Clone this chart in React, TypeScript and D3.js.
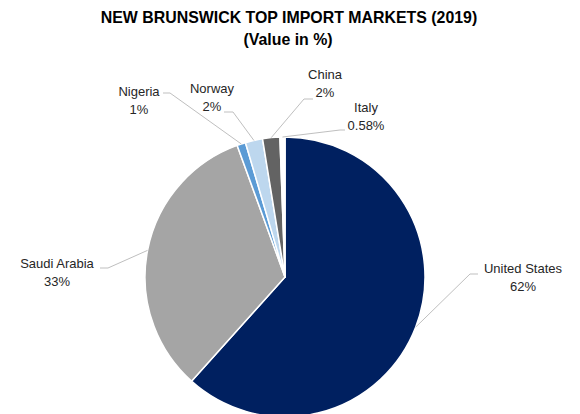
import React from "react";
import * as d3 from "d3";

const countries = ["United States", "Saudi Arabia", "Nigeria", "Norway", "China", "Italy"];
const shares = [62, 33, 1, 2, 2, 0.58];
const shareLabels = ["62%", "33%", "1%", "2%", "2%", "0.58%"];
const colors = ["#002060", "#A5A5A5", "#5B9BD5", "#BDD7EE", "#636363", "#FFFFFF"];

// label text position + where the leader line meets the text (tail) and bends (elbow)
const labelLayout = [
  { x: 523, y: 273, tail: [478, 274], elbow: [470, 274] },
  { x: 57, y: 268, tail: [100, 268], elbow: [108, 268] },
  { x: 139, y: 96, tail: [163, 93], elbow: [170, 93] },
  { x: 212, y: 93, tail: [224, 112], elbow: [233, 112] },
  { x: 325, y: 79, tail: [313, 99], elbow: [304, 99] },
  { x: 366, y: 112, tail: [345, 130], elbow: [340, 130] },
];

const width = 580;
const height = 414;
const cx = 285;
const cy = 277;
const radius = 140;

const App = () => {
  const data = countries.map((name, i) => ({ name, value: shares[i], label: shareLabels[i], color: colors[i] }));

  const pie = d3.pie<any>().sort(null).value((d) => d.value).startAngle(0).endAngle(2 * Math.PI);
  const arcs = pie(data);

  const arc = d3.arc<any>().innerRadius(0).outerRadius(radius);

  const font = "'Liberation Sans', Arial, sans-serif";

  return (
    <svg width={width} height={height} style={{ position: "absolute", left: 0, top: 0, background: "#fff" }}>
      <text x={289} y={23} textAnchor="middle" fontFamily={font} fontWeight="bold" fontSize={15.9} fill="#000">
        NEW BRUNSWICK TOP IMPORT MARKETS (2019)
      </text>
      <text x={288} y={45} textAnchor="middle" fontFamily={font} fontWeight="bold" fontSize={15.9} fill="#000">
        (Value in %)
      </text>

      <g transform={`translate(${cx},${cy})`}>
        {arcs.map((a, i) => (
          <path key={i} d={arc(a) as string} fill={a.data.color} stroke="#fff" strokeWidth={1.5} strokeLinejoin="round" />
        ))}
      </g>

      {arcs.map((a, i) => {
        const mid = (a.startAngle + a.endAngle) / 2;
        const px = cx + radius * Math.sin(mid);
        const py = cy - radius * Math.cos(mid);
        const l = labelLayout[i];
        const line = d3.line()([[px, py], l.elbow as [number, number], l.tail as [number, number]]);
        return (
          <g key={i}>
            <path d={line as string} fill="none" stroke="#BFBFBF" strokeWidth={1} />
            <text x={l.x} y={l.y} textAnchor="middle" fontFamily={font} fontSize={13} fill="#262626">
              {a.data.name}
            </text>
            <text x={l.x} y={l.y + 18} textAnchor="middle" fontFamily={font} fontSize={13} fill="#262626">
              {a.data.label}
            </text>
          </g>
        );
      })}
    </svg>
  );
};

export default App;
